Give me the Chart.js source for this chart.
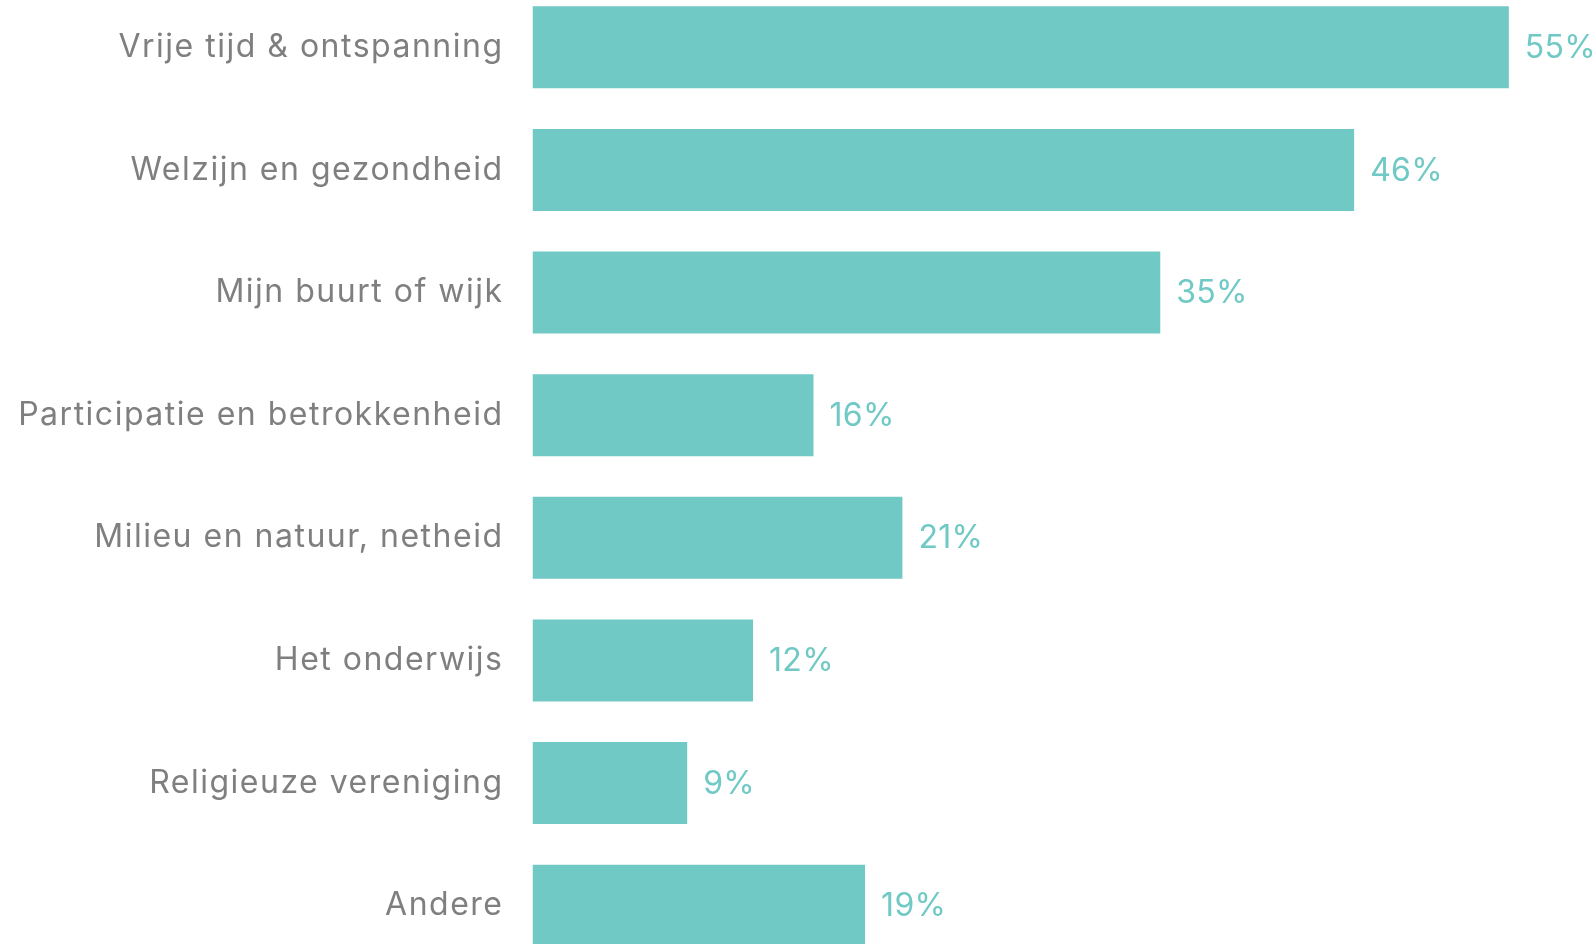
<!DOCTYPE html>
<html>
<head>
<meta charset="utf-8">
<script src="https://cdn.jsdelivr.net/npm/chart.js@4.4.0/dist/chart.umd.min.js"></script>
<style>
	html, body { margin: 0; padding: 0; background: #ffffff; overflow: hidden; }
	#wrap { position: absolute; left: 0; top: -14.3px; width: 1596px; height: 981px; }
</style>
</head>
<body>
<div id="wrap"><canvas id="myBarChart"></canvas></div>
<script>
// categories and values (percent)
const categories = [
	"Vrije tijd & ontspanning",
	"Welzijn en gezondheid",
	"Mijn buurt of wijk",
	"Participatie en betrokkenheid",
	"Milieu en natuur, netheid",
	"Het onderwijs",
	"Religieuze vereniging",
	"Andere",
];
const values = [54.9, 46.2, 35.3, 15.8, 20.8, 12.4, 8.7, 18.7];

const barColor = "#70c9c5";
const textColor = "#7f7f7f";
const fontFamily = "Inter, 'Open Sans', sans-serif";

// letter spacing gets reset whenever the canvas is resized, so set it before drawing
const spacing = {
	id: "spacing",
	beforeDraw(chart) {
		chart.ctx.letterSpacing = "1.5px";
	},
};

// draws the "55%" labels at the end of each bar
const valueLabels = {
	id: "valueLabels",
	afterDatasetsDraw(chart) {
		const ctx = chart.ctx;
		const meta = chart.getDatasetMeta(0);
		ctx.save();
		ctx.letterSpacing = "0.3px";
		ctx.font = "32px " + fontFamily;
		ctx.fillStyle = barColor;
		ctx.textAlign = "left";
		ctx.textBaseline = "middle";
		meta.data.forEach((bar, i) => {
			ctx.fillText(Math.round(values[i]) + "%", bar.x + 16, bar.y + 1);
		});
		ctx.restore();
	},
};

const ctx = document.getElementById("myBarChart");

new Chart(ctx, {
	type: "bar",
	data: {
		labels: categories,
		datasets: [
			{
				data: values,
				backgroundColor: barColor,
				borderWidth: 0,
				barPercentage: 0.669,
				categoryPercentage: 1,
			},
		],
	},
	options: {
		indexAxis: "y",
		responsive: true,
		maintainAspectRatio: false,
		animation: false,
		layout: { padding: 0 },
		plugins: {
			legend: { display: false },
			tooltip: { enabled: false },
		},
		scales: {
			x: {
				display: false,
				min: 0,
				max: 59.8,
			},
			y: {
				grid: { display: false, drawTicks: false },
				border: { display: false },
				ticks: {
					color: textColor,
					padding: 29,
					font: { family: fontFamily, size: 32 },
				},
				afterFit(scale) {
					scale.width = 532.5;
					scale.paddingTop = 0;
					scale.paddingBottom = 0;
				},
			},
		},
	},
	plugins: [spacing, valueLabels],
});
</script>
</body>
</html>
